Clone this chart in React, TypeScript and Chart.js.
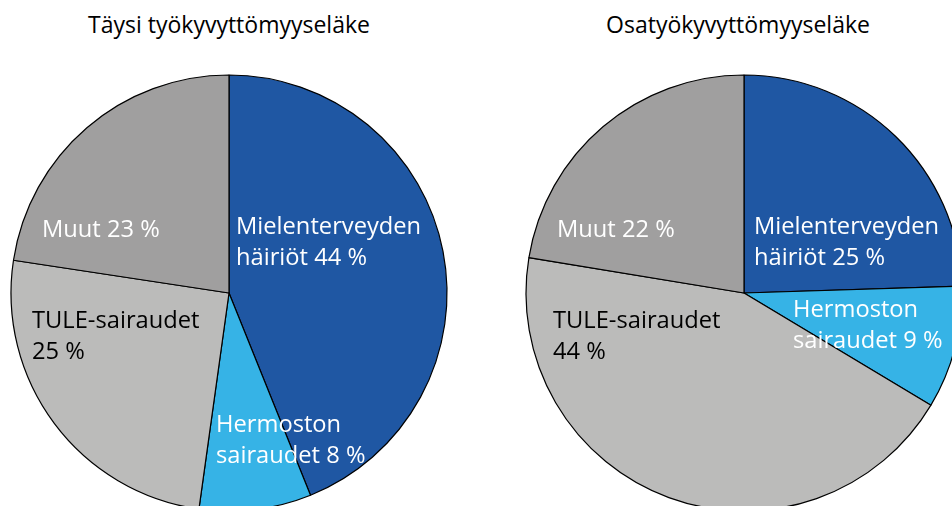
import React, { useEffect, useRef } from "react";
import { Chart, registerables } from "chart.js";

Chart.register(...registerables);

const categories = ["Mielenterveyden häiriöt", "Hermoston sairaudet", "TULE-sairaudet", "Muut"];
const titleTaysi = "Täysi työkyvyttömyyseläke";
const titleOsa = "Osatyökyvyttömyyseläke";
const valuesTaysi = [43.9, 8.3, 25.2, 22.6];
const valuesOsa = [24.5, 9.1, 44.0, 22.4];
const labelsTaysi = [["Mielenterveyden", "häiriöt 44 %"], ["Hermoston", "sairaudet 8 %"], ["TULE-sairaudet", "25 %"], ["Muut 23 %"]];
const labelsOsa = [["Mielenterveyden", "häiriöt 25 %"], ["Hermoston", "sairaudet 9 %"], ["TULE-sairaudet", "44 %"], ["Muut 22 %"]];

const colors = ["#1F57A3", "#36B3E6", "#BBBBBA", "#A09F9F"];
const textColors = ["#FFFFFF", "#FFFFFF", "#000000", "#FFFFFF"];
const FONT = "'Open Sans', sans-serif";
const FONT_SIZE = 23.7;
const TITLE_SIZE = 23;
const LINE_GAP = 31;
// label anchor offsets (left x, first baseline) relative to the pie centre
const offsetsTaysi = [[7, -59], [-13, 139], [-197, 35], [-187, -56]];
const offsetsOsa = [[10, -59], [49, 24], [-191, 35], [-187, -56]];

const RADIUS = 218;
const SIZE = 460;

const sliceLabelPlugin = {
  id: "sliceLabels",
  afterDatasetsDraw(chart: any, _args: any, opts: any) {
    const ctx = chart.ctx;
    const meta = chart.getDatasetMeta(0);
    ctx.save();
    ctx.font = `${FONT_SIZE}px ${FONT}`;
    ctx.textAlign = "left";
    ctx.textBaseline = "alphabetic";
    meta.data.forEach((arc: any, i: number) => {
      const lines: string[] = opts.lines[i];
      const [dx, dy] = opts.offsets[i];
      ctx.fillStyle = textColors[i];
      lines.forEach((ln, k) => {
        ctx.fillText(ln, arc.x + dx, arc.y + dy + k * LINE_GAP);
      });
    });
    ctx.restore();
  },
};

function Pie({ values, lines, offsets, left, top }: any) {
  const ref = useRef<HTMLCanvasElement>(null);
  useEffect(() => {
    const chart = new Chart(ref.current!, {
      type: "pie",
      data: {
        labels: categories,
        datasets: [
          {
            data: values,
            backgroundColor: colors,
            borderColor: "#000000",
            borderWidth: 1.2,
          },
        ],
      },
      options: {
        responsive: false,
        animation: false,
        radius: RADIUS,
        layout: { padding: 0 },
        plugins: {
          legend: { display: false },
          tooltip: { enabled: false },
          sliceLabels: { lines, offsets },
        } as any,
      } as any,
      plugins: [sliceLabelPlugin],
    });
    return () => chart.destroy();
  }, []);
  return (
    <canvas
      ref={ref}
      width={SIZE}
      height={SIZE}
      style={{ position: "absolute", left, top, width: SIZE, height: SIZE }}
    />
  );
}

function Title({ text, cx }: { text: string; cx: number }) {
  return (
    <div
      style={{
        position: "absolute",
        left: cx - 250,
        width: 500,
        top: 9,
        textAlign: "center",
        font: `${TITLE_SIZE}px ${FONT}`,
        lineHeight: "30px",
        color: "#000",
      }}
    >
      {text}
    </div>
  );
}

export default function App() {
  return (
    <div
      style={{
        position: "fixed",
        left: 0,
        top: 0,
        width: 952,
        height: 506,
        overflow: "hidden",
        background: "#fff",
      }}
    >
      <Title text={titleTaysi} cx={229} />
      <Title text={titleOsa} cx={738} />
      <Pie values={valuesTaysi} lines={labelsTaysi} offsets={offsetsTaysi} left={229 - SIZE / 2} top={293 - SIZE / 2} />
      <Pie values={valuesOsa} lines={labelsOsa} offsets={offsetsOsa} left={744 - SIZE / 2} top={293 - SIZE / 2} />
    </div>
  );
}
